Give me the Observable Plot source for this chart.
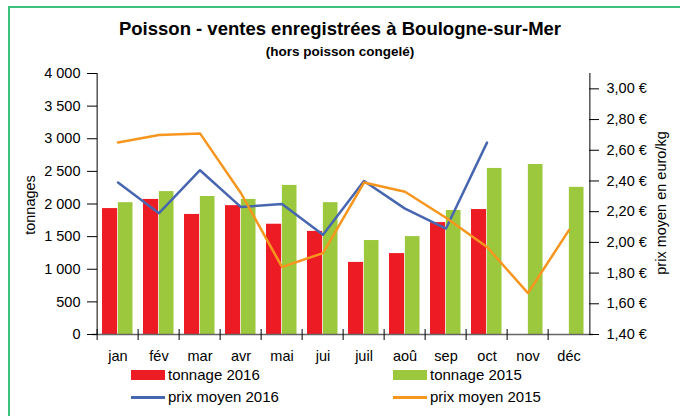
<!DOCTYPE html>
<html><head><meta charset="utf-8">
<script src="https://cdn.jsdelivr.net/npm/d3@7"></script>
<script src="https://cdn.jsdelivr.net/npm/@observablehq/plot@0.6"></script>
<style>
body{margin:0;background:#fff;font-family:"Liberation Sans",Arial,sans-serif;}
#wrap{position:relative;width:680px;height:416px;overflow:hidden;}
#border{position:absolute;left:8px;top:6px;width:700px;height:440px;border-left:2px solid #3cc27d;border-top:2px solid #3cc27d;}
.t{position:absolute;left:0;width:680px;text-align:center;font-weight:bold;white-space:nowrap;}
.rot{position:absolute;white-space:nowrap;transform:translate(-50%,-50%) rotate(-90deg);font-size:14.5px;}
.leg{position:absolute;font-size:15px;white-space:nowrap;line-height:16px;}
.sw{position:absolute;}
#chart{position:absolute;left:0;top:0;}
</style></head>
<body><div id="wrap">
<div id="border"></div>
<div class="t" style="top:18px;font-size:18.5px;">Poisson - ventes enregistrées à Boulogne-sur-Mer</div>
<div class="t" style="top:44px;font-size:13.5px;">(hors poisson congelé)</div>
<div id="chart"></div>
<div class="rot" style="left:30px;top:205px;">tonnages</div>
<div class="rot" style="left:661px;top:203px;">prix moyen en euro/kg</div>
<div id="legend"></div>
</div>
<script>
const months = ["jan","fév","mar","avr","mai","jui","juil","aoû","sep","oct","nov","déc"];
const tonnage2016 = [1930, 2070, 1840, 1975, 1690, 1580, 1105, 1240, 1715, 1915, null, null];
const tonnage2015 = [2020, 2190, 2115, 2070, 2285, 2020, 1440, 1500, 1900, 2545, 2605, 2255];
const prix2016 = [2.39, 2.19, 2.47, 2.23, 2.25, 2.05, 2.40, 2.22, 2.09, 2.65, null, null];
const prix2015 = [2.65, 2.70, 2.71, 2.32, 1.84, 1.93, 2.39, 2.33, 2.16, 1.97, 1.67, 2.08];
const tonnageTicks = [0, 500, 1000, 1500, 2000, 2500, 3000, 3500, 4000];
const prixTicks = [1.4, 1.6, 1.8, 2.0, 2.2, 2.4, 2.6, 2.8, 3.0];
const prixDomain = [1.4, 3.1];
const tonDomain = [0, 4000];

const colors = {t2016: "#ed1c24", t2015: "#9bc83c", p2016: "#4866b0", p2015: "#f7961f"};

// map a price onto the tonnage scale (secondary axis)
const toT = p => (p - prixDomain[0]) / (prixDomain[1] - prixDomain[0]) * tonDomain[1];
const fromT = t => prixDomain[0] + t / tonDomain[1] * (prixDomain[1] - prixDomain[0]);

const rows = months.map((m, i) => ({m, t16: tonnage2016[i], t15: tonnage2015[i], p16: prix2016[i], p15: prix2015[i]}));

const W = 680, H = 368, mL = 92, mR = 87;
const bw = (W - mL - mR) / months.length;
const half = bw / 2;

const fmtT = v => String(v).replace(/\B(?=(\d{3})+(?!\d))/g, " ");
const fmtP = v => fromT(v).toFixed(2).replace(".", ",") + " €";

const chart = Plot.plot({
  width: W, height: H,
  marginLeft: mL, marginRight: mR, marginTop: 73, marginBottom: 34,
  style: {fontFamily: "'Liberation Sans', Arial, sans-serif", fontSize: "14.5px", color: "#000", background: "transparent"},
  x: {type: "band", domain: months, padding: 0, label: null},
  y: {domain: tonDomain, label: null},
  marks: [
    Plot.barY(rows.filter(d => d.t16 != null), {x: "m", y: "t16", fill: colors.t2016, insetLeft: 5, insetRight: half}),
    Plot.barY(rows, {x: "m", y: "t15", fill: colors.t2015, insetLeft: half, insetRight: 5.5}),
    Plot.ruleY([0], {stroke: "#666", strokeWidth: 1.5}),
    Plot.ruleX([months[0]], {dx: -half, stroke: "#000", strokeWidth: 1}),
    Plot.ruleX([months[months.length - 1]], {dx: half, stroke: "#000", strokeWidth: 1}),
    Plot.line(rows.filter(d => d.p16 != null), {x: "m", y: d => toT(d.p16), stroke: colors.p2016, strokeWidth: 2.5}),
    Plot.line(rows, {x: "m", y: d => toT(d.p15), stroke: colors.p2015, strokeWidth: 2.5}),
    Plot.axisY({anchor: "left", ticks: tonnageTicks, tickFormat: fmtT, tickSize: 10, dx: 5, tickPadding: 7, label: null}),
    Plot.axisY({anchor: "right", ticks: prixTicks.map(toT), tickFormat: fmtP, tickSize: 10, dx: -5, tickPadding: 8, label: null}),
    Plot.axisX({ticks: months, tickFormat: () => "", tickSize: 11, dx: -half, dy: -5, label: null}),
    Plot.axisX({ticks: months, tickSize: 0, tickPadding: 16, fontSize: 14.5, label: null})
  ]
});
document.getElementById("chart").appendChild(chart);

const legendItems = [
  {label: "tonnage 2016", color: colors.t2016, kind: "rect", x: 131, y: 375},
  {label: "tonnage 2015", color: colors.t2015, kind: "rect", x: 393, y: 375},
  {label: "prix moyen 2016", color: colors.p2016, kind: "line", x: 131, y: 397},
  {label: "prix moyen 2015", color: colors.p2015, kind: "line", x: 393, y: 397}
];
const leg = document.getElementById("legend");
for (const it of legendItems) {
  const sw = document.createElement("div");
  sw.className = "sw";
  const h = it.kind === "rect" ? 10 : 3;
  sw.style.cssText = `left:${it.x}px;top:${it.y - h / 2}px;width:34px;height:${h}px;background:${it.color};`;
  leg.appendChild(sw);
  const tx = document.createElement("div");
  tx.className = "leg";
  tx.style.cssText = `left:${it.x + 37}px;top:${it.y - 8}px;`;
  tx.textContent = it.label;
  leg.appendChild(tx);
}
</script>
</body></html>
